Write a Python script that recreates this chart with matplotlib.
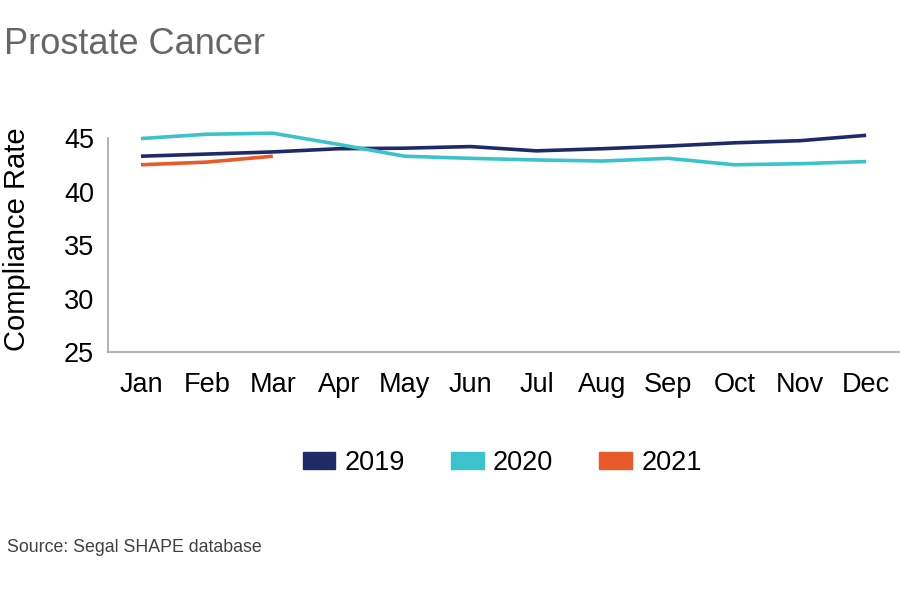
import matplotlib.pyplot as plt
from matplotlib.patches import Patch

plt.rcParams['font.family'] = ['Liberation Sans', 'DejaVu Sans']

# Monthly compliance rates
months = ['Jan', 'Feb', 'Mar', 'Apr', 'May', 'Jun',
          'Jul', 'Aug', 'Sep', 'Oct', 'Nov', 'Dec']
rate_2019 = [43.3, 43.5, 43.7, 44.0, 44.05, 44.2, 43.8, 44.0, 44.25, 44.55, 44.75, 45.25]
rate_2020 = [44.95, 45.35, 45.45, 44.4, 43.3, 43.1, 42.95, 42.85, 43.1, 42.5, 42.6, 42.8]
rate_2021 = [42.5, 42.75, 43.3]

years = ['2019', '2020', '2021']
colors = ['#1f2a68', '#3bc3cc', '#e85a2a']

fig = plt.figure(figsize=(9, 6), dpi=100)
ax = fig.add_axes([0.12, 0.413, 0.879, 0.357])

x = list(range(len(months)))
for vals, col in zip([rate_2019, rate_2020, rate_2021], colors):
    ax.plot(x[:len(vals)], vals, color=col, linewidth=2.6, clip_on=False,
            solid_capstyle='butt')

ax.set_xlim(-0.5, 11.5)
ax.set_ylim(25, 45)
ax.set_yticks([25, 30, 35, 40, 45])
ax.set_xticks(x)
ax.set_xticklabels(months)
ax.tick_params(axis='both', length=0, labelsize=19.5, colors='black')
ax.tick_params(axis='x', pad=14)
ax.tick_params(axis='y', pad=10)

for side in ['top', 'right']:
    ax.spines[side].set_visible(False)
for side in ['left', 'bottom']:
    ax.spines[side].set_color('#a6a6a6')
    ax.spines[side].set_linewidth(1.2)

ax.set_ylabel('Compliance Rate', fontsize=21)
ax.yaxis.set_label_coords(-0.097, 0.528)

handles = [Patch(facecolor=c, edgecolor=c) for c in colors]
fig.legend(handles, years, loc='center', bbox_to_anchor=(0.558, 0.228),
           ncol=3, frameon=False, fontsize=19.5, handlelength=1.2,
           handleheight=0.6, handletextpad=0.35, columnspacing=1.7)

fig.text(0.005, 0.925, 'Prostate Cancer', fontsize=26, color='#666666',
         va='center', ha='left')
fig.text(0.008, 0.087, 'Source: Segal SHAPE database', fontsize=12.8,
         color='#404040', va='center', ha='left')

fig.savefig('out.png', dpi=100)
